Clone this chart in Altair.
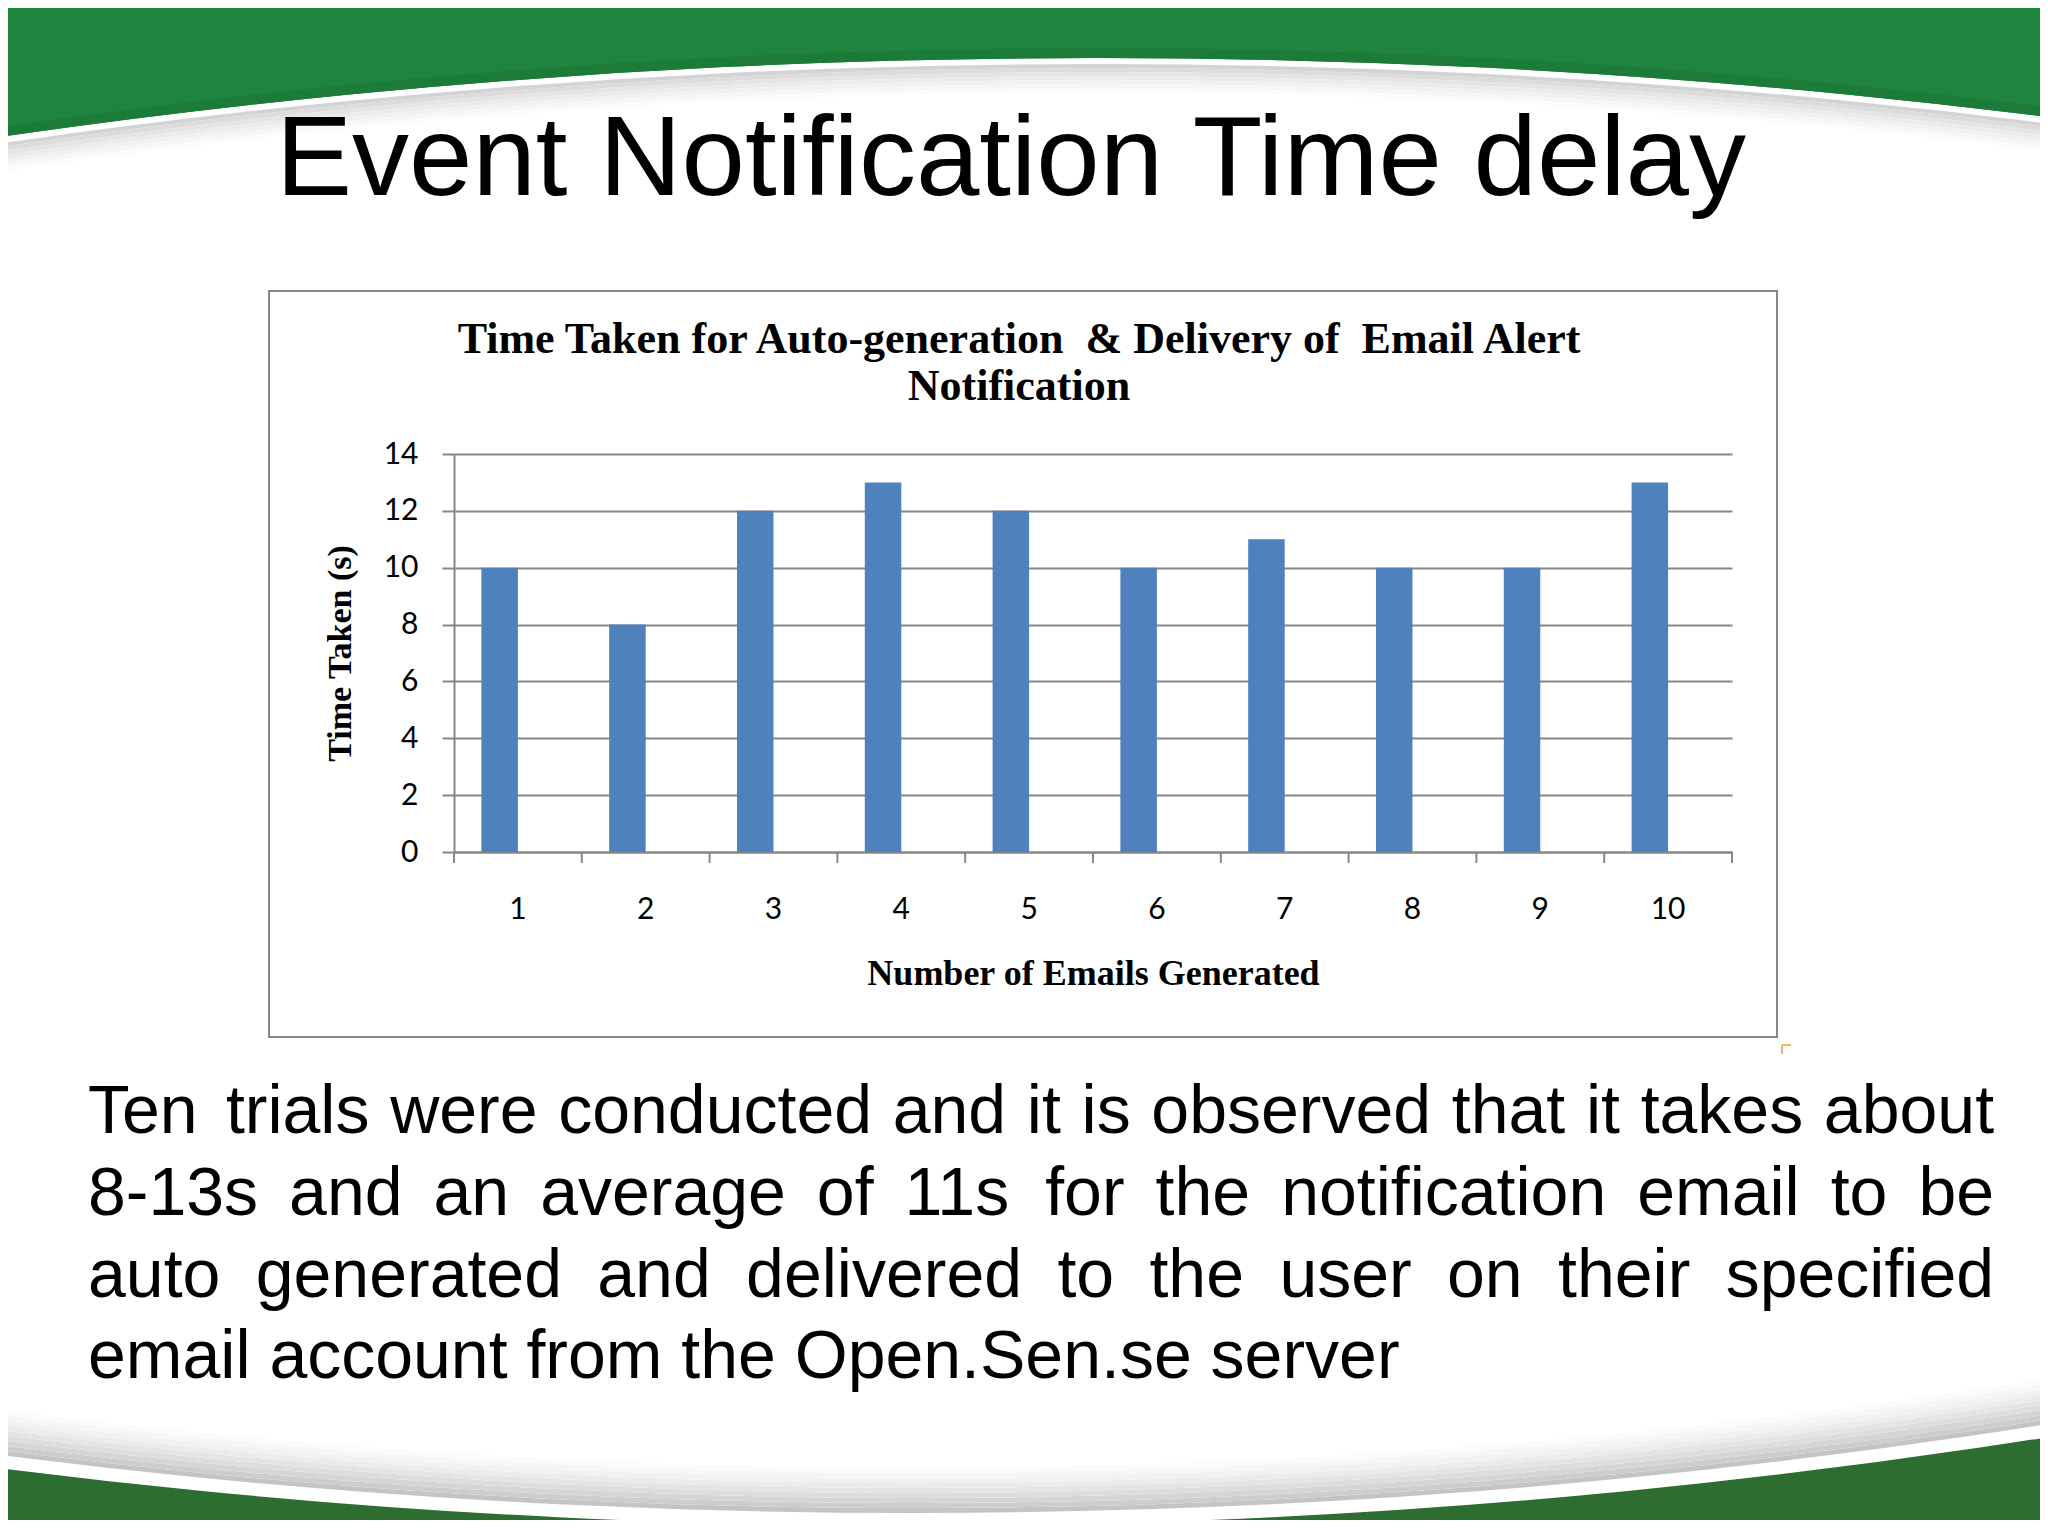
import math
import altair as alt
import pandas as pd

# ---------------- data ----------------
emails = [1, 2, 3, 4, 5, 6, 7, 8, 9, 10]
seconds = [10, 8, 12, 13, 12, 10, 11, 10, 10, 13]
y_tick_values = [0, 2, 4, 6, 8, 10, 12, 14]
series_slots = ["Time Taken", "(empty series)"]

slide_title = "Event Notification Time delay"
chart_title_lines = [
    "Time Taken for Auto-generation\u00a0 & Delivery of\u00a0 Email Alert",
    "Notification",
]
x_title = "Number of Emails Generated"
y_title = "Time Taken (s)"
paragraph_lines = [
    "Ten trials were conducted and it is observed that it takes about",
    "8-13s and an average of 11s for the notification email to be",
    "auto generated and delivered to the user on their specified",
    "email account from the Open.Sen.se server",
]

# ---------------- layout (page pixels) ----------------
OX, OY = 454, 454          # plot origin on the page
W, H = 1278, 398           # plot area
CANVAS_W, CANVAS_H = 2032, 1512
PAD = {"left": OX - 8, "top": OY - 8,
       "right": 8 + CANVAS_W - (OX + W), "bottom": 8 + CANVAS_H - (OY + H)}


def vx(p):
    return p - OX


def vy(p):
    return p - OY


GRAY = "#878787"
BAR = "#4F81BD"
one = pd.DataFrame({"k": [0]})

# ---------------- slide decoration ----------------
TOP_C = (1098, 7692)
TOP_R = 7634
BOT_C = (915, -5744)
BOT_R = 7270


def ring(c, r_in, r_out, color):
    return alt.Chart(one).mark_arc(color=color).encode(
        x=alt.value(vx(c[0])), y=alt.value(vy(c[1])),
        theta=alt.value(0), theta2=alt.value(2 * math.pi),
        radius=alt.value(r_out), radius2=alt.value(r_in),
    )


decor = []
top_shades = ["#d3d3d3", "#dcdcdc", "#e4e4e4", "#ebebeb", "#f1f1f1", "#f6f6f6", "#fbfbfb"]
for k, col in enumerate(top_shades):
    r_out = TOP_R - 6 - 4 * k
    decor.append(ring(TOP_C, r_out - 4, r_out, col))
decor.append(ring(TOP_C, TOP_R, TOP_R + 400, "#1F843D"))
decor.append(ring(TOP_C, TOP_R, TOP_R + 10, "#1C7B39"))

bot_shades = ["#c4c4c4", "#cdcdcd", "#d5d5d5", "#dddddd", "#e4e4e4", "#ebebeb", "#f1f1f1", "#f6f6f6", "#fbfbfb"]
for k, col in enumerate(bot_shades):
    r_out = BOT_R - 13 - 5 * k
    decor.append(ring(BOT_C, r_out - 5, r_out, col))
decor.append(ring(BOT_C, BOT_R, BOT_R + 400, "#2D6E30"))

# chart frame
frame = alt.Chart(one).mark_rect(fillOpacity=0, stroke=GRAY, strokeWidth=2).encode(
    x=alt.value(vx(269)), x2=alt.value(vx(1777)),
    y=alt.value(vy(291)), y2=alt.value(vy(1037)),
)
corner = [
    alt.Chart(one).mark_rule(color="#F2B35E", strokeWidth=2).encode(
        x=alt.value(vx(1782)), x2=alt.value(vx(1791)), y=alt.value(vy(1045))),
    alt.Chart(one).mark_rule(color="#F2B35E", strokeWidth=2).encode(
        x=alt.value(vx(1782)), y=alt.value(vy(1045)), y2=alt.value(vy(1054))),
]


def label(text, px, py, size, font, weight="normal", align="left"):
    return alt.Chart(one).mark_text(
        text=text, font=font, fontSize=size, fontWeight=weight,
        align=align, baseline="alphabetic", color="black",
    ).encode(x=alt.value(vx(px)), y=alt.value(vy(py)))


texts = [label(slide_title, 1011, 195, 114, "Liberation Sans", align="center")]
for line, base in zip(chart_title_lines, [353, 400]):
    texts.append(label(line, 1019, base, 44, "Liberation Serif", "bold", "center"))

# justified paragraph (Arial/Liberation Sans advance widths, 1/1000 em)
ARIAL_W = {' ': 278, '-': 333, '.': 278, '1': 556, '3': 556, '8': 556, 'O': 778, 'S': 667,
           'T': 611, 'a': 556, 'b': 556, 'c': 500, 'd': 556, 'e': 556, 'f': 278, 'g': 556,
           'h': 556, 'i': 222, 'k': 500, 'l': 222, 'm': 833, 'n': 556, 'o': 556, 'p': 556,
           'r': 333, 's': 500, 't': 278, 'u': 556, 'v': 500, 'w': 722, 'y': 500}
PFONT = 68
P_LEFT, P_RIGHT = 88, 1994
P_BASES = [1133, 1215, 1297, 1378]


def tw(s):
    return sum(ARIAL_W.get(c, 556) for c in s) * PFONT / 1000.0


for i, (line, base) in enumerate(zip(paragraph_lines, P_BASES)):
    if i == len(paragraph_lines) - 1:
        texts.append(label(line, P_LEFT, base, PFONT, "Liberation Sans"))
        continue
    words = line.split(" ")
    gap = (P_RIGHT - P_LEFT - sum(tw(w) for w in words)) / (len(words) - 1)
    x = P_LEFT
    for w in words:
        texts.append(label(w, x, base, PFONT, "Liberation Sans"))
        x += tw(w) + gap

# ---------------- bar chart ----------------
bars_df = pd.DataFrame({"n": emails, "t": seconds, "s": [series_slots[0]] * len(emails)})

x_axis = alt.Axis(title=x_title, labelAngle=0, labelFont="Lato", labelFontSize=30,
                  labelColor="black", labelBaseline="middle", labelPadding=46,
                  tickSize=11, tickOpacity=0, domainColor=GRAY, domainWidth=2,
                  grid=False, titleFont="Liberation Serif", titleFontSize=36,
                  titleFontWeight="bold", titleColor="black", titleY=121,
                  titleBaseline="middle")
x_scale = alt.Scale(paddingInner=0, paddingOuter=0)

bars = alt.Chart(bars_df).mark_bar(color=BAR).encode(
    x=alt.X("n:O", scale=x_scale, axis=x_axis),
    xOffset=alt.XOffset("s:N", scale=alt.Scale(domain=series_slots, paddingInner=0,
                                               paddingOuter=0.75)),
    y=alt.Y("t:Q", scale=alt.Scale(domain=[0, 14], nice=False),
            axis=alt.Axis(values=y_tick_values, title=y_title, labelFont="Lato",
                          labelFontSize=30, labelColor="black", labelPadding=24,
                          tickSize=12, tickColor=GRAY, tickWidth=2, domainColor=GRAY,
                          domainWidth=2, grid=True, gridColor=GRAY, gridWidth=2,
                          titleFont="Liberation Serif", titleFontSize=34,
                          titleFontWeight="bold", titleColor="black", titleX=vx(340),
                          titleY=H / 2, titleAngle=270, titleBaseline="middle",
                          titleAlign="center")),
)

tick_rules = alt.Chart(pd.DataFrame({"n": emails})).mark_rule(color=GRAY, strokeWidth=2).encode(
    x=alt.X("n:O", bandPosition=0, scale=x_scale, axis=x_axis),
    y=alt.value(H), y2=alt.value(H + 11),
)
end_tick = alt.Chart(one).mark_rule(color=GRAY, strokeWidth=2).encode(
    x=alt.value(W), y=alt.value(H), y2=alt.value(H + 11),
)

chart = alt.layer(
    *decor, frame, *corner, *texts, bars, tick_rules, end_tick
).properties(
    width=W, height=H,
    autosize=alt.AutoSizeParams(type="none"),
    padding=PAD,
    background="white",
).configure_view(stroke="transparent")

chart.save("out.html", embed_options={"renderer": "svg", "actions": False})
